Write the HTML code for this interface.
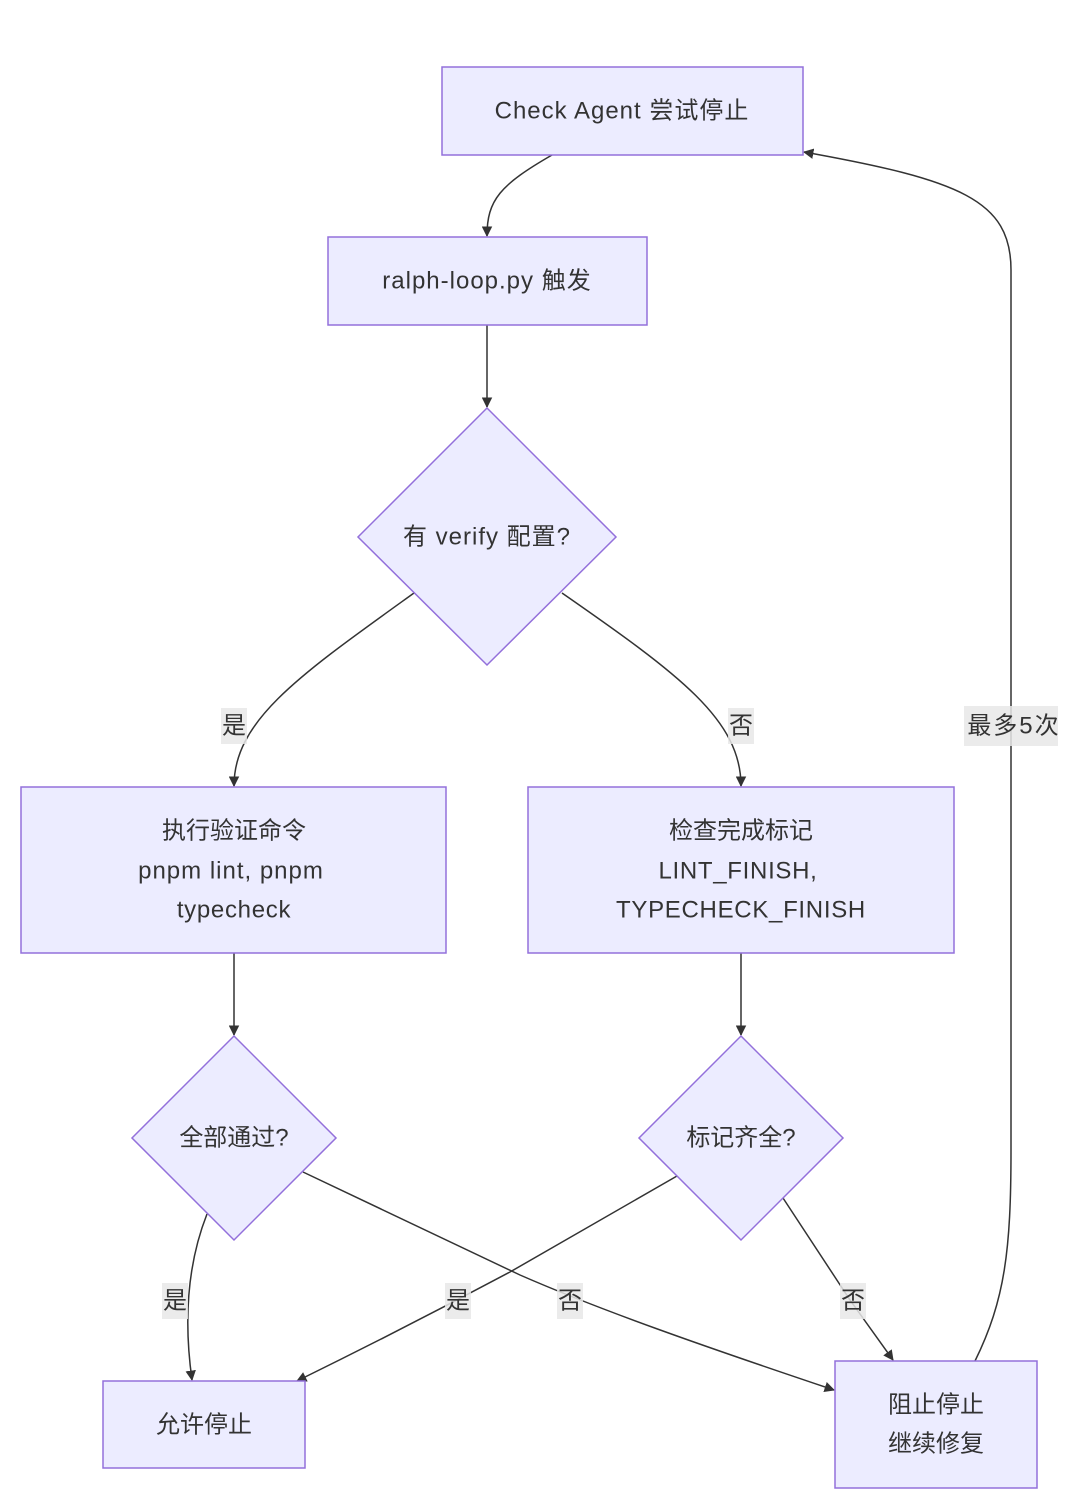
<!DOCTYPE html>
<html><head><meta charset="utf-8"><style>
html,body{margin:0;padding:0;background:#fff;width:1080px;height:1495px;overflow:hidden}
svg text{font-family:"Liberation Sans","Noto Sans CJK SC",sans-serif;font-size:24px;fill:#333;text-anchor:middle;dominant-baseline:central}
.t1{letter-spacing:1px}
.t2{letter-spacing:0.7px}
</style></head><body>
<svg width="1080" height="1495" viewBox="0 0 1080 1495" xmlns="http://www.w3.org/2000/svg">
<defs><marker id="a" viewBox="0 0 10 10" refX="9" refY="5" markerWidth="7" markerHeight="7" orient="auto"><path d="M0,0L10,5L0,10z" fill="#333"/></marker></defs>
<g fill="none" stroke="#333" stroke-width="1.5" marker-end="url(#a)">
<path d="M552,155 C500,185 487,200 487,236"/>
<path d="M487,325 L487,407"/>
<path d="M414,593 C300,675 234,720 234,786"/>
<path d="M562,593 C680,675 741,720 741,786"/>
<path d="M234,953 L234,1035"/>
<path d="M741,953 L741,1035"/>
<path d="M207,1214 C185,1270 185,1330 192,1380"/>
<path d="M303,1172 L520,1275 C600,1310 700,1345 834,1390"/>
<path d="M677,1176 L510,1272 C420,1320 350,1355 297,1381"/>
<path d="M783,1198 L850,1300 L893,1360"/>
<path d="M975,1361 C1005,1300 1011,1250 1011,1150 L1011,270 C1011,200 960,180 804,152"/>
</g>
<g fill="#ECECFF" stroke="#9370DB" stroke-width="1.5">
<rect x="442" y="67" width="361" height="88"/>
<rect x="328" y="237" width="319" height="88"/>
<polygon points="487,408 616,537 487,665 358,537"/>
<rect x="21" y="787" width="425" height="166"/>
<rect x="528" y="787" width="426" height="166"/>
<polygon points="234,1036 336,1138 234,1240 132,1138"/>
<polygon points="741,1036 843,1138 741,1240 639,1138"/>
<rect x="103" y="1381" width="202" height="87"/>
<rect x="835" y="1361" width="202" height="127"/>
</g>
<g fill="rgba(232,232,232,0.85)">
<rect x="221" y="708" width="26" height="36"/>
<rect x="728" y="708" width="26" height="36"/>
<rect x="162" y="1283" width="26" height="36"/>
<rect x="557" y="1283" width="26" height="36"/>
<rect x="445" y="1283" width="26" height="36"/>
<rect x="840" y="1283" width="26" height="36"/>
<rect x="964" y="706" width="94" height="40"/>
</g>
<text class="t1" x="622" y="111">Check Agent 尝试停止</text>
<text class="t1" x="487" y="281">ralph-loop.py 触发</text>
<text class="t1" x="487" y="537">有 verify 配置?</text>
<text x="234" y="831">执行验证命令</text>
<text class="t1" x="231" y="871">pnpm lint, pnpm</text>
<text class="t2" x="234" y="910">typecheck</text>
<text x="741" y="831">检查完成标记</text>
<text class="t2" x="738" y="871">LINT_FINISH,</text>
<text class="t2" x="741" y="910">TYPECHECK_FINISH</text>
<text x="234" y="1138">全部通过?</text>
<text x="741" y="1138">标记齐全?</text>
<text x="204" y="1425">允许停止</text>
<text x="936" y="1405">阻止停止</text>
<text x="936" y="1444">继续修复</text>
<text x="234" y="726">是</text>
<text x="741" y="726">否</text>
<text x="175" y="1301">是</text>
<text x="570" y="1301">否</text>
<text x="458" y="1301">是</text>
<text x="853" y="1301">否</text>
<text x="1014" y="726" style="letter-spacing:2px">最多5次</text>
</svg>
</body></html>
